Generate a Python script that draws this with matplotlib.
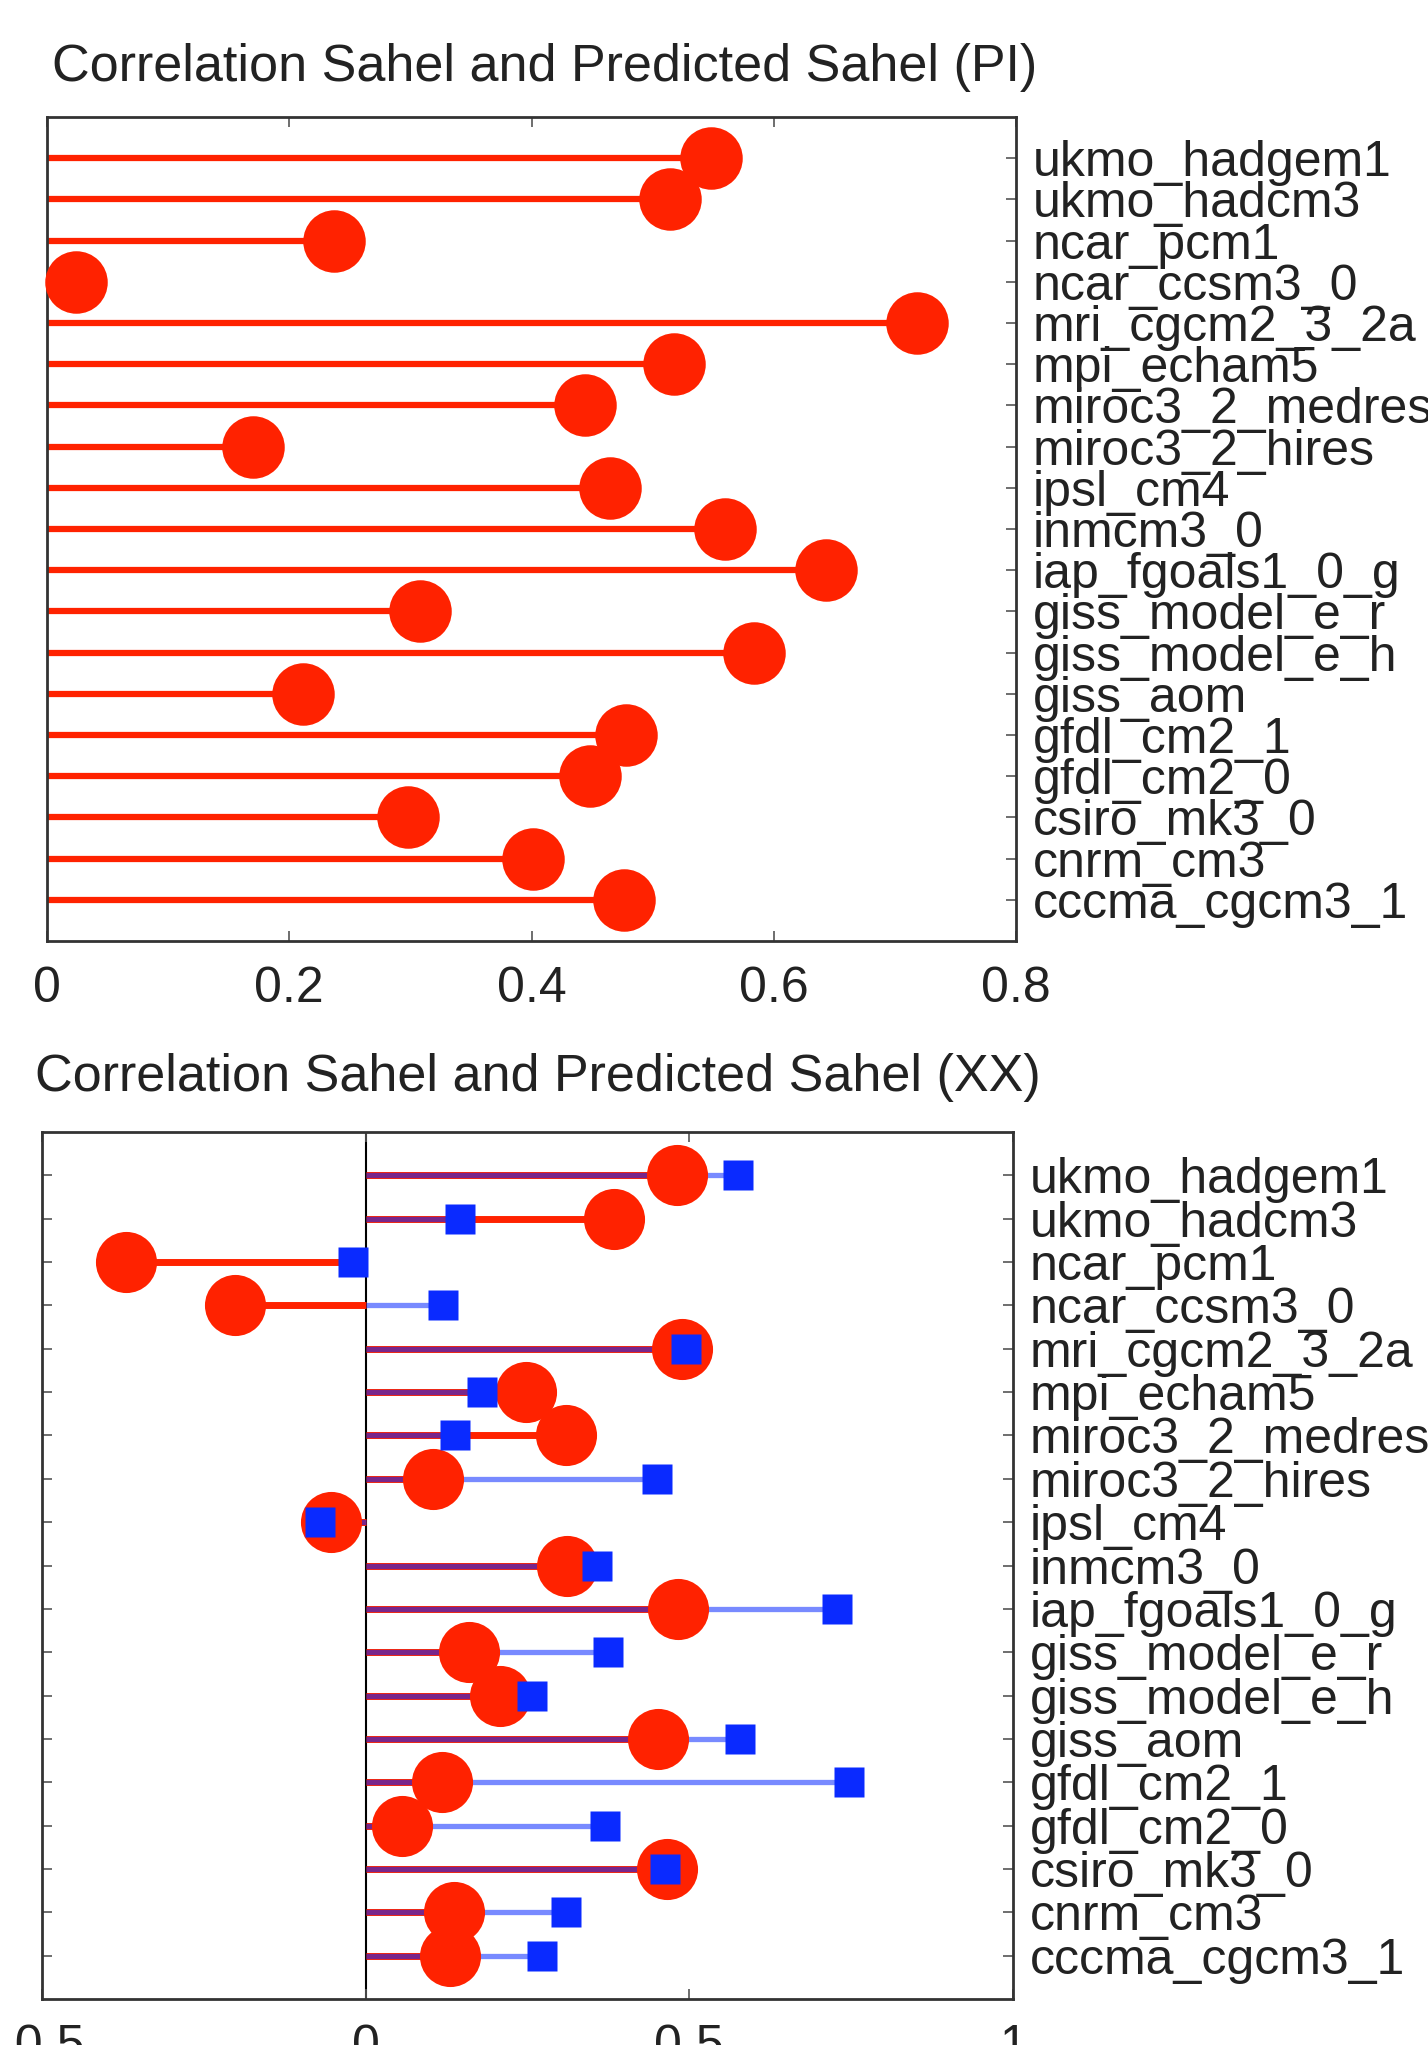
import numpy as np
import matplotlib
matplotlib.use('Agg')
import matplotlib.pyplot as plt

# model names, listed bottom to top as drawn
models = ["cccma_cgcm3_1", "cnrm_cm3", "csiro_mk3_0", "gfdl_cm2_0", "gfdl_cm2_1",
          "giss_aom", "giss_model_e_h", "giss_model_e_r", "iap_fgoals1_0_g", "inmcm3_0",
          "ipsl_cm4", "miroc3_2_hires", "miroc3_2_medres", "mpi_echam5", "mri_cgcm2_3_2a",
          "ncar_ccsm3_0", "ncar_pcm1", "ukmo_hadcm3", "ukmo_hadgem1"]

# PI correlation (top panel)
corr_pi = [0.476, 0.401, 0.298, 0.448, 0.478,
           0.211, 0.584, 0.308, 0.643, 0.560,
           0.465, 0.170, 0.444, 0.518, 0.718,
           0.024, 0.237, 0.514, 0.548]

# XX correlation (bottom panel): red circles and blue squares
corr_xx_red = [0.130, 0.136, 0.466, 0.056, 0.118,
               0.452, 0.207, 0.160, 0.483, 0.311,
               -0.053, 0.104, 0.309, 0.247, 0.489,
               -0.202, -0.371, 0.384, 0.481]
corr_xx_blue = [0.273, 0.309, 0.462, 0.370, 0.746,
                0.579, 0.257, 0.374, 0.728, 0.357,
                -0.071, 0.450, 0.138, 0.179, 0.495,
                0.120, -0.019, 0.146, 0.575]

RED = '#ff2200'
BLUE = '#0a2aff'
FONT = 'Liberation Sans'
FS = 36

plt.rcParams['font.family'] = [FONT, 'DejaVu Sans']

W, H = 1428, 2045
fig = plt.figure(figsize=(W / 100, H / 100), dpi=100)
y = np.arange(1, len(models) + 1)


def style_axes(ax, xlim, xticks, xticklabels):
    ax.set_xlim(*xlim)
    ax.set_ylim(0, 20)
    ax.set_xticks(xticks)
    ax.set_xticklabels(xticklabels, fontsize=FS, color='#222222')
    ax.set_yticks(y)
    ax.set_yticklabels(models, fontsize=FS, color='#222222')
    ax.yaxis.tick_right()
    ax.tick_params(axis='both', direction='in', length=7, width=1.2, color='#555555',
                   top=True, bottom=True, left=True, right=True)
    ax.tick_params(axis='x', pad=18)
    ax.tick_params(axis='y', pad=12)
    for sp in ax.spines.values():
        sp.set_linewidth(2)
        sp.set_color('#333333')


# top panel
ax1 = fig.add_axes([47 / W, 1 - 941 / H, 969 / W, 824 / H])
ax1.hlines(y, 0, corr_pi, color=RED, lw=4.5, zorder=2)
ax1.plot(corr_pi, y, 'o', color=RED, ms=45, mec='none', zorder=3, clip_on=False)
style_axes(ax1, (0, 0.8), [0, 0.2, 0.4, 0.6, 0.8], ['0', '0.2', '0.4', '0.6', '0.8'])
fig.text(52 / W, 1 - 67 / H, 'Correlation Sahel and Predicted Sahel (PI)',
         fontsize=37.5, color='#222222', ha='left', va='center')

# bottom panel
ax2 = fig.add_axes([42 / W, 1 - 1999 / H, 971 / W, 867 / H])
ax2.axvline(0, color='black', lw=1.5, zorder=1)
ax2.hlines(y, 0, corr_xx_red, color=RED, lw=5, zorder=2)
ax2.hlines(y, 0, corr_xx_blue, color=BLUE, lw=3.8, alpha=0.55, zorder=2.5)
ax2.plot(corr_xx_red, y, 'o', color=RED, ms=44, mec='none', zorder=3)
ax2.plot(corr_xx_blue, y, 's', color=BLUE, ms=22, mec='none', zorder=4)
style_axes(ax2, (-0.5, 1.0), [-0.5, 0, 0.5, 1.0], ['-0.5', '0', '0.5', '1'])
fig.text(35 / W, 1 - 1078 / H, 'Correlation Sahel and Predicted Sahel (XX)',
         fontsize=37.5, color='#222222', ha='left', va='center')

fig.savefig('out.png', dpi=100)
